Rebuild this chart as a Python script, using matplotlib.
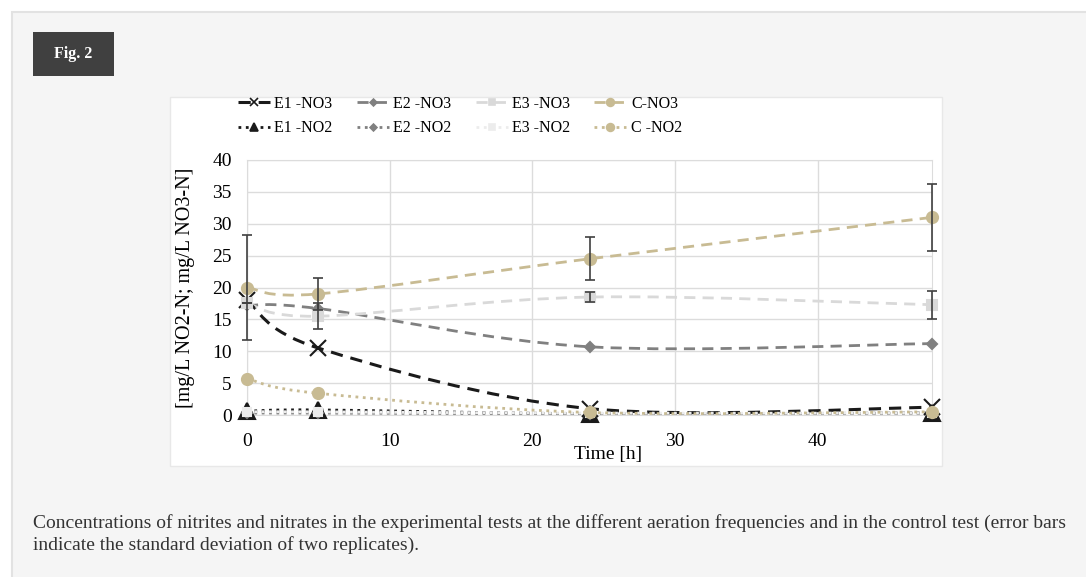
import matplotlib.pyplot as plt
from matplotlib.path import Path
from matplotlib.patches import PathPatch, Rectangle
from matplotlib.lines import Line2D

plt.rcParams['font.family'] = ['Liberation Serif', 'DejaVu Serif']

# Data
time_h = [0, 5, 24, 48]
e1_no3 = [18.0, 10.5, 1.0, 1.2]
e2_no3 = [17.2, 16.7, 10.7, 11.2]
e3_no3 = [17.5, 15.5, 18.5, 17.3]
c_no3 = [20.0, 19.0, 24.5, 31.0]
e1_no2 = [0.6, 0.8, 0.2, 0.3]
e2_no2 = [0.3, 0.3, 0.2, 0.3]
e3_no2 = [0.5, 0.5, 0.3, 0.3]
c_no2 = [5.7, 3.4, 0.4, 0.5]
c_no3_err = [8.2, 2.5, 3.4, 5.2]
e3_no3_err = [0.0, 2.0, 0.8, 2.2]

W, H = 1086, 577
fig = plt.figure(figsize=(W / 100, H / 100), dpi=100, facecolor='white')


def px_rect(x0, y0, x1, y1, **kw):
    r = Rectangle((x0 / W, 1 - y1 / H), (x1 - x0) / W, (y1 - y0) / H,
                  transform=fig.transFigure, zorder=-5, **kw)
    fig.patches.append(r)


# page panel, chart box and the "Fig. 2" tag
px_rect(12, 12, 1090, 590, facecolor='#f5f5f5', edgecolor='#e2e2e2', lw=1.5)
px_rect(170, 97, 942, 466, facecolor='white', edgecolor='#e8e8e8', lw=1)
px_rect(33, 32, 114, 76, facecolor='#404040', edgecolor='none')
fig.text(73.5 / W, 1 - 54 / H, 'Fig. 2', color='white', fontsize=11.5,
         fontweight='bold', ha='center', va='center')

ax = fig.add_axes([247 / W, 1 - 415 / H, (932 - 247) / W, (415 - 160) / H])
ax.patch.set_alpha(0)
ax.set_xlim(0, 48)
ax.set_ylim(0, 40)
ax.set_xticks([0, 10, 20, 30, 40])
ax.set_yticks(range(0, 41, 5))
ax.grid(True, color='#dcdcdc', lw=1)
ax.set_axisbelow(True)
for s in ax.spines.values():
    s.set_color('#dcdcdc')
ax.tick_params(length=0, labelsize=14)
ax.tick_params(axis='x', pad=13)
ax.tick_params(axis='y', pad=11)
ax.set_ylabel('[mg/L NO2-N; mg/L NO3-N]', fontsize=14.5, labelpad=12)


def smooth(xs, ys, **kw):
    # Excel-style smoothed line: cubic Bezier through the data points
    pts = list(zip(xs, ys))
    verts = [pts[0]]
    codes = [Path.MOVETO]
    n = len(pts)
    for i in range(n - 1):
        p0 = pts[i - 1] if i > 0 else pts[i]
        p1, p2 = pts[i], pts[i + 1]
        p3 = pts[i + 2] if i + 2 < n else pts[i + 1]
        c1 = (p1[0] + (p2[0] - p0[0]) / 6, p1[1] + (p2[1] - p0[1]) / 6)
        c2 = (p2[0] - (p3[0] - p1[0]) / 6, p2[1] - (p3[1] - p1[1]) / 6)
        verts += [c1, c2, p2]
        codes += [Path.CURVE4] * 3
    ax.add_patch(PathPatch(Path(verts, codes), fill=False, **kw))


black = '#1a1a1a'
grey = '#808080'
light = '#d9d9d9'
khaki = '#c8bb93'
dash = (0, (4, 2.6))

series = [
    # label, data, color, marker, size, linestyle, lw
    ('E1 -NO3', e1_no3, black, 'x', 12, dash, 2.2),
    ('E1 -NO2', e1_no2, black, '^', 12, ':', 2.0),
    ('E2 -NO3', e2_no3, grey, 'D', 5, dash, 2.0),
    ('E2 -NO2', e2_no2, grey, 'D', 5, ':', 2.0),
    ('E3 -NO3', e3_no3, light, 's', 7, dash, 2.0),
    ('E3 -NO2', e3_no2, '#ececec', 's', 6, ':', 2.0),
    ('C-NO3', c_no3, khaki, 'o', 8, dash, 2.0),
    ('C -NO2', c_no2, khaki, 'o', 8, ':', 2.0),
]

handles = []
for lab, ys, col, mk, ms, ls, lw in series:
    smooth(time_h, ys, edgecolor=col, lw=lw, linestyle=ls, zorder=2)
    ax.plot(time_h, ys, linestyle='none', marker=mk, ms=ms, color=col,
            mew=1.5, zorder=3, clip_on=False)
    handles.append(Line2D([], [], color=col, lw=lw, linestyle=ls, marker=mk,
                          ms=min(ms, 9) * 0.7, mew=1.2, label=lab))

for vals, err in [(c_no3, c_no3_err), (e3_no3, e3_no3_err)]:
    eb = ax.errorbar(time_h, vals, yerr=err, fmt='none', ecolor='#404040',
                     elinewidth=1.2, capsize=3.5, capthick=1.2, zorder=4)
    for art in eb.lines[1] + eb.lines[2]:
        art.set_clip_on(False)

fig.legend(handles=handles, ncol=4, loc='center', frameon=False,
           bbox_to_anchor=(460 / W, 1 - 116 / H), fontsize=11.5,
           handlelength=2.0, handletextpad=0.3, columnspacing=1.5,
           labelspacing=0.55)

fig.text(608 / W, 1 - 455 / H, 'Time [h]', fontsize=14, ha='center',
         va='center')

caption = ('Concentrations of nitrites and nitrates in the experimental tests at '
           'the different aeration frequencies and in the control test (error bars\n'
           'indicate the standard deviation of two replicates).')
fig.text(33 / W, 1 - 534 / H, caption, fontsize=14, ha='left', va='center',
         color='#333333', linespacing=1.3)

fig.savefig('out.png', dpi=100)
